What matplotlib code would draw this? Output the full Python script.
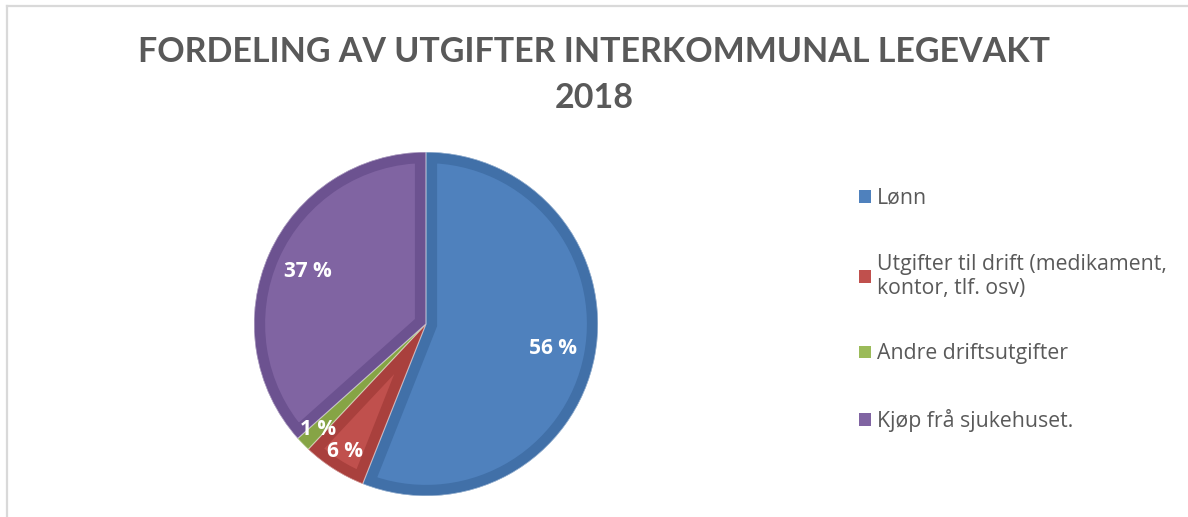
import matplotlib
import matplotlib.pyplot as plt
from matplotlib.lines import Line2D

matplotlib.use('Agg')

# data
categories = [
    "Lønn",
    "Utgifter til drift (medikament,\nkontor, tlf. osv)",
    "Andre driftsutgifter",
    "Kjøp frå sjukehuset.",
]
shares = [56, 6, 1.4, 36.6]
colors = ["#4F81BD", "#C0504D", "#9BBB59", "#8064A2"]
edge_colors = ["#4170A8", "#A9403D", "#86A445", "#6C5290"]
title = "FORDELING AV UTGIFTER INTERKOMMUNAL LEGEVAKT\n2018"

text_gray = "#595959"

fig = plt.figure(figsize=(11.88, 5.17), dpi=100)
fig.patch.set_facecolor("white")

# light frame like the excel chart area
fig.add_artist(Line2D([7 / 1188, 7 / 1188], [0, 1 - 6 / 517], color="#D9D9D9", lw=1.6))
fig.add_artist(Line2D([7 / 1188, 1], [1 - 6 / 517, 1 - 6 / 517], color="#D9D9D9", lw=1.6))

fig.text(0.50, 1 - 75 / 517, title, ha="center", va="center", fontsize=24.5, fontweight="bold",
         color=text_gray, family=["Lato", "DejaVu Sans"], linespacing=1.55)

# pie axes, centred at about (426, 324) px, radius ~172 px
r = 172
ax = fig.add_axes([(426 - r) / 1188, (517 - 324 - r) / 517, 2 * r / 1188, 2 * r / 517])
wedges, texts, autotexts = ax.pie(
    shares, colors=colors, startangle=90, counterclock=False,
    autopct="%.0f %%", pctdistance=0.75, radius=1,
    wedgeprops=dict(linewidth=0),
    textprops=dict(color="white", fontsize=15, fontweight="bold", family=["Open Sans", "DejaVu Sans"]),
)

# darker inner band on every slice
for w, ec in zip(wedges, edge_colors):
    w.set_edgecolor(ec)
    w.set_linewidth(16)
    w.set_joinstyle("miter")
    w.set_clip_on(True)
    w.set_clip_path(w)

# thin separators
sep, _ = ax.pie(shares, startangle=90, counterclock=False, radius=1,
                wedgeprops=dict(facecolor="none", edgecolor="white", linewidth=0.8, alpha=0.6))
for s in sep:
    s.set_clip_on(True)
    s.set_clip_path(s)

ax.set_xlim(-1, 1)
ax.set_ylim(-1, 1)
ax.set_aspect("equal")

# small slices: push labels outwards a bit
for t, s in zip(autotexts, shares):
    if s < 10:
        x, y = t.get_position()
        t.set_position((x * 1.17, y * 1.17))

handles = [plt.Rectangle((0, 0), 1, 1, facecolor=c) for c in colors]
leg = fig.legend(handles, categories, loc="upper left", bbox_to_anchor=(859 / 1188, 1 - 188 / 517),
                 frameon=False, labelspacing=2.1, handlelength=0.55, handleheight=0.55,
                 handletextpad=0.3, borderaxespad=0, borderpad=0,
                 prop=dict(family=["Open Sans", "DejaVu Sans"], size=15.3))
for t in leg.get_texts():
    t.set_color(text_gray)

fig.savefig("out.png", dpi=100)
